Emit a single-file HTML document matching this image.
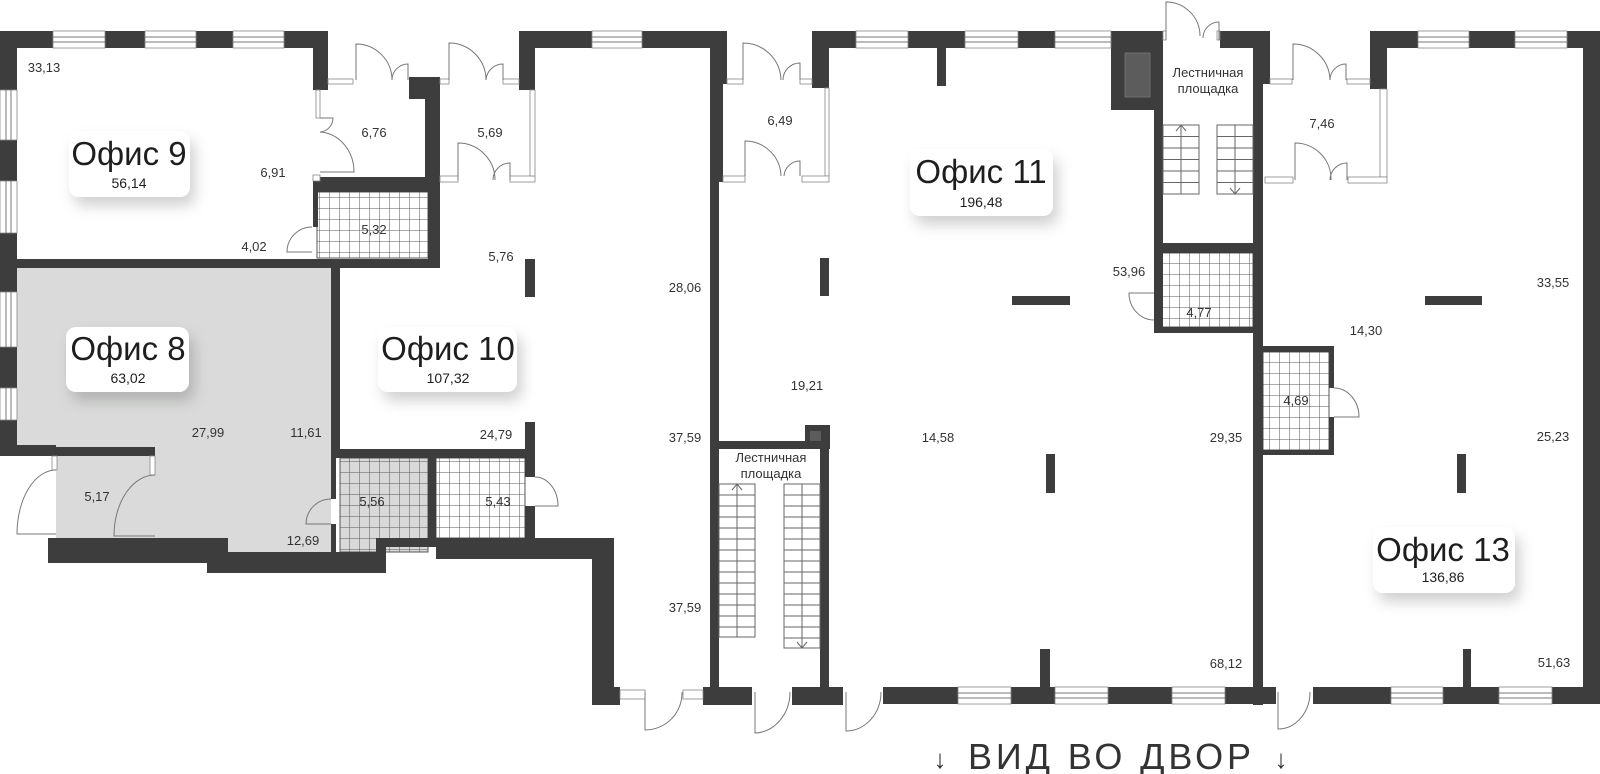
<!DOCTYPE html>
<html><head><meta charset="utf-8"><style>
html,body{margin:0;padding:0;background:#fff;}
svg{display:block;font-family:"Liberation Sans","DejaVu Sans",sans-serif;}
.w{fill:#3d3d3d}
.ln{fill:none;stroke:#777;stroke-width:1}
.fr{fill:#fff;stroke:#888;stroke-width:0.8}
.lb{font-size:13px;fill:#333;text-anchor:middle}
.big{font-size:33px;fill:#1e1e1e;text-anchor:middle}
.num{font-size:14px;fill:#1e1e1e;text-anchor:middle}
.st{fill:none;stroke:#666;stroke-width:1}
</style></head><body>
<svg width="1600" height="774" viewBox="0 0 1600 774" xmlns="http://www.w3.org/2000/svg">
<defs>
<pattern id="g" width="10" height="11" patternUnits="userSpaceOnUse"><path d="M10 0V11M0 11H10" stroke="#555" stroke-width="1" fill="none"/></pattern>
<filter id="sh" x="-20%" y="-20%" width="150%" height="170%"><feDropShadow dx="5" dy="9" stdDeviation="7" flood-color="#000" flood-opacity="0.18"/></filter>
</defs>

<polygon points="17,268 331,268 331,552 228,552 228,538 155,538 155,456 17,456" fill="#d9dad9"/>
<rect x="56" y="456" width="99" height="82" fill="#d9dad9"/>
<rect x="340" y="458" width="88" height="94" fill="#d9d9d9"/>

<rect x="317" y="192" width="111" height="66" fill="url(#g)" stroke="#555"/>
<rect x="340" y="458" width="88" height="94" fill="url(#g)" stroke="#555"/>
<rect x="436" y="458" width="89" height="80" fill="url(#g)" stroke="#555"/>
<rect x="1160" y="253" width="93" height="74" fill="url(#g)" stroke="#555"/>
<rect x="1263" y="352" width="66" height="98" fill="url(#g)" stroke="#555"/>

<g class="w">
<rect x="0" y="31" width="328" height="17"/>
<rect x="313" y="31" width="15" height="59"/>
<rect x="0" y="31" width="17" height="425"/>
<rect x="409" y="77" width="31" height="22"/>
<rect x="425" y="99" width="15" height="93"/>
<rect x="313" y="177" width="127" height="15"/>
<rect x="428" y="192" width="12" height="76"/>
<rect x="313" y="192" width="5" height="35"/>
<rect x="17" y="259" width="423" height="9"/>
<rect x="0" y="445" width="56" height="11"/>
<rect x="56" y="447" width="99" height="9"/>
<rect x="331" y="268" width="9" height="181"/>
<rect x="331" y="449" width="5" height="50"/>
<rect x="331" y="524" width="5" height="28"/>
<rect x="336" y="449" width="199" height="9"/>
<rect x="428" y="458" width="8" height="80"/>
<rect x="525" y="422" width="10" height="55"/>
<rect x="525" y="506" width="10" height="32"/>
<rect x="48" y="538" width="180" height="25"/>
<rect x="207" y="552" width="179" height="21"/>
<rect x="376" y="538" width="60" height="9"/>
<rect x="376" y="538" width="10" height="35"/>
<rect x="436" y="538" width="178" height="21"/>
<rect x="592" y="538" width="22" height="167"/>
<rect x="592" y="687" width="28" height="18"/>
<rect x="525" y="259" width="10" height="38"/>
<rect x="519" y="31" width="73" height="17"/>
<rect x="519" y="31" width="16" height="59"/>
<rect x="642" y="31" width="85" height="17"/>
<rect x="710" y="31" width="17" height="53"/>
<rect x="710" y="84" width="13" height="98"/>
<rect x="710" y="182" width="9" height="523"/>
<rect x="703" y="687" width="49" height="18"/>
<rect x="719" y="441" width="101" height="8"/>
<rect x="805" y="425" width="25" height="24"/>
<rect x="820" y="449" width="9" height="256"/>
<rect x="792" y="687" width="51" height="18"/>
<rect x="812" y="31" width="17" height="57"/>
<rect x="812" y="31" width="44" height="17"/>
<rect x="908" y="31" width="57" height="17"/>
<rect x="1018" y="31" width="37" height="17"/>
<rect x="937" y="48" width="9" height="38"/>
<rect x="1111" y="31" width="52" height="79"/>
<rect x="1154" y="110" width="9" height="223"/>
<rect x="1220" y="31" width="50" height="17"/>
<rect x="1253" y="48" width="17" height="36"/>
<rect x="1253" y="84" width="10" height="621"/>
<rect x="1154" y="243" width="109" height="10"/>
<rect x="1154" y="327" width="109" height="6"/>
<rect x="1154" y="253" width="6" height="40"/>
<rect x="820" y="258" width="9" height="38"/>
<rect x="1012" y="296" width="58" height="9"/>
<rect x="1046" y="454" width="9" height="39"/>
<rect x="1040" y="649" width="10" height="38"/>
<rect x="883" y="687" width="75" height="17"/>
<rect x="1011" y="687" width="44" height="17"/>
<rect x="1108" y="687" width="64" height="17"/>
<rect x="1225" y="687" width="51" height="17"/>
<rect x="1370" y="31" width="17" height="58"/>
<rect x="1370" y="31" width="48" height="17"/>
<rect x="1469" y="31" width="46" height="17"/>
<rect x="1567" y="31" width="33" height="17"/>
<rect x="1583" y="31" width="17" height="673"/>
<rect x="1313" y="687" width="78" height="17"/>
<rect x="1443" y="687" width="56" height="17"/>
<rect x="1552" y="687" width="48" height="17"/>
<rect x="1263" y="346" width="71" height="6"/>
<rect x="1329" y="346" width="5" height="42"/>
<rect x="1329" y="417" width="5" height="38"/>
<rect x="1263" y="450" width="71" height="5"/>
<rect x="1425" y="296" width="57" height="9"/>
<rect x="1457" y="454" width="9" height="39"/>
<rect x="1463" y="649" width="8" height="38"/>
</g>
<rect x="1125" y="53" width="25" height="44" fill="#5c5c5c" stroke="#777" stroke-width="0.8"/>
<rect x="810" y="431" width="11" height="10" fill="#5c5c5c"/>

<g class="fr">
<rect x="53" y="31" width="52" height="17"/><rect x="145" y="31" width="51" height="17"/><rect x="233" y="31" width="51" height="17"/>
<rect x="592" y="31" width="50" height="17"/><rect x="856" y="31" width="52" height="17"/><rect x="965" y="31" width="53" height="17"/>
<rect x="1055" y="31" width="56" height="17"/><rect x="1418" y="31" width="51" height="17"/><rect x="1515" y="31" width="52" height="17"/>
<rect x="958" y="687" width="53" height="17"/><rect x="1055" y="687" width="53" height="17"/><rect x="1172" y="687" width="53" height="17"/>
<rect x="1391" y="687" width="52" height="17"/><rect x="1499" y="687" width="53" height="17"/>
<rect x="0" y="90" width="17" height="50"/><rect x="0" y="181" width="17" height="52"/><rect x="0" y="292" width="17" height="55"/><rect x="0" y="388" width="17" height="32"/>
</g>
<path class="ln" stroke="#999" d="M53 37H105M53 42H105M145 37H196M145 42H196M233 37H284M233 42H284M592 37H642M592 42H642M856 37H908M856 42H908M965 37H1018M965 42H1018M1055 37H1111M1055 42H1111M1418 37H1469M1418 42H1469M1515 37H1567M1515 42H1567M958 693H1011M958 698H1011M1055 693H1108M1055 698H1108M1172 693H1225M1172 698H1225M1391 693H1443M1391 698H1443M1499 693H1552M1499 698H1552M6 90V140M11 90V140M6 181V233M11 181V233M6 292V347M11 292V347M6 388V420M11 388V420"/>

<g class="fr">
<rect x="328" y="79" width="25" height="5"/><rect x="440" y="79" width="9" height="5"/><rect x="503" y="79" width="16" height="5"/>
<rect x="440" y="176" width="18" height="6"/><rect x="510" y="176" width="25" height="6"/><rect x="530" y="90" width="5" height="86"/>
<rect x="316" y="90" width="4" height="28"/><rect x="313" y="175" width="7" height="6"/>
<rect x="727" y="79" width="16" height="5"/><rect x="800" y="79" width="12" height="5"/><rect x="825" y="88" width="4" height="88"/>
<rect x="723" y="176" width="22" height="6"/><rect x="802" y="176" width="27" height="6"/>
<rect x="1270" y="79" width="22" height="5"/><rect x="1347" y="79" width="23" height="5"/><rect x="1380" y="89" width="7" height="88"/>
<rect x="1265" y="177" width="28" height="6"/><rect x="1348" y="177" width="39" height="6"/>
<rect x="620" y="690" width="25" height="9"/><rect x="683" y="690" width="20" height="9"/>
<rect x="1163" y="31" width="3" height="9"/><rect x="1217" y="31" width="3" height="9"/>
<rect x="52" y="456" width="5" height="14"/><rect x="150" y="456" width="5" height="19"/>
</g>

<path class="ln" d="M356 80V44A36 36 0 0 1 392 80M408 80V64A16 16 0 0 0 392 80 M449 80V43A37 37 0 0 1 486 80M503 80V64A17 17 0 0 0 486 80 M458 180V143A37 37 0 0 1 495 180M510 180V163A17 17 0 0 0 493 180 M320 118H333A14 14 0 0 1 320 132M320 132A36 40 0 0 1 354 172H320 M743 80V43A38 38 0 0 1 781 80M800 80V63A17 17 0 0 0 783 80 M745 176V141A36 36 0 0 1 781 176M800 176V161A16 16 0 0 0 784 176 M1293 80V44A37 37 0 0 1 1330 80M1346 80V64A16 16 0 0 0 1330 80 M1295 180V143A36 36 0 0 1 1331 180M1347 180V163A17 17 0 0 0 1330 180 M1166 40V2A34 34 0 0 1 1200 36M1219 40V22A16 16 0 0 0 1203 38 M645 692V730A37 37 0 0 0 682 692 M755 692V733A36 41 0 0 0 790 692 M846 692V731A35 39 0 0 0 881 692 M1278 692V729A32 37 0 0 0 1310 692 M312 227A25 25 0 0 0 287 252H312 M331 499A25 25 0 0 0 306 524H331 M535 477A23 29 0 0 1 558 506H535 M1154 293H1129A25 27 0 0 0 1154 320 M1334 388A25 29 0 0 1 1359 417H1334 M56 470A39 64 0 0 0 17 534H56 M155 475A41 61 0 0 0 114 536H155"/>

<g class="st">
<rect x="719" y="484" width="36" height="153"/><path d="M737 484V637M719 495H755M719 506H755M719 517H755M719 528H755M719 539H755M719 550H755M719 561H755M719 572H755M719 583H755M719 594H755M719 605H755M719 616H755M719 627H755M732 490L737 484L742 490"/>
<rect x="784" y="484" width="36" height="164"/><path d="M802 484V648M784 495H820M784 506H820M784 517H820M784 528H820M784 539H820M784 550H820M784 561H820M784 572H820M784 583H820M784 594H820M784 605H820M784 616H820M784 627H820M784 638H820M797 642L802 648L807 642"/>
<rect x="1163" y="125" width="36" height="69"/><path d="M1181 125V194M1163 136.5H1199M1163 148H1199M1163 159.5H1199M1163 171H1199M1163 182.5H1199M1176 131L1181 125L1186 131"/>
<rect x="1217" y="125" width="36" height="69"/><path d="M1235 125V194M1217 136.5H1253M1217 148H1253M1217 159.5H1253M1217 171H1253M1217 182.5H1253M1230 188L1235 194L1240 188"/>
</g>

<g fill="#fff" filter="url(#sh)">
<rect x="69" y="131" width="121" height="66" rx="10"/>
<rect x="66" y="327" width="123" height="65" rx="10"/>
<rect x="378" y="327" width="139" height="65" rx="10"/>
<rect x="910" y="149" width="143" height="67" rx="10"/>
<rect x="1373" y="527" width="142" height="66" rx="10"/>
</g>
<text class="big" x="129" y="165">Офис 9</text><text class="num" x="129" y="188">56,14</text>
<text class="big" x="128" y="360">Офис 8</text><text class="num" x="128" y="383">63,02</text>
<text class="big" x="448" y="360">Офис 10</text><text class="num" x="448" y="383">107,32</text>
<text class="big" x="981" y="183">Офис 11</text><text class="num" x="981" y="207">196,48</text>
<text class="big" x="1443" y="561">Офис 13</text><text class="num" x="1443" y="582">136,86</text>

<g class="lb">
<text x="44" y="72">33,13</text><text x="374" y="137">6,76</text><text x="490" y="137">5,69</text>
<text x="273" y="177">6,91</text><text x="254" y="251">4,02</text><text x="374" y="234">5,32</text><text x="501" y="261">5,76</text>
<text x="208" y="437">27,99</text><text x="306" y="437">11,61</text><text x="496" y="439">24,79</text>
<text x="97" y="501">5,17</text><text x="372" y="506">5,56</text><text x="498" y="506">5,43</text><text x="303" y="545">12,69</text>
<text x="685" y="292">28,06</text><text x="685" y="442">37,59</text><text x="685" y="612">37,59</text>
<text x="807" y="390">19,21</text><text x="780" y="125">6,49</text><text x="938" y="442">14,58</text>
<text x="1226" y="442">29,35</text><text x="1226" y="668">68,12</text><text x="1129" y="276">53,96</text><text x="1199" y="317">4,77</text>
<text x="1322" y="128">7,46</text><text x="1366" y="335">14,30</text><text x="1553" y="287">33,55</text><text x="1553" y="441">25,23</text>
<text x="1554" y="667">51,63</text><text x="1296" y="405">4,69</text>
<text x="771" y="462">Лестничная</text><text x="771" y="478">площадка</text>
<text x="1208" y="77">Лестничная</text><text x="1208" y="93">площадка</text>
</g>

<text x="940" y="768" font-size="26" fill="#333" text-anchor="middle">↓</text>
<text x="968" y="769" font-size="36" fill="#333" textLength="283" lengthAdjust="spacing">ВИД ВО ДВОР</text>
<text x="1281" y="768" font-size="26" fill="#333" text-anchor="middle">↓</text>
</svg>
</body></html>
